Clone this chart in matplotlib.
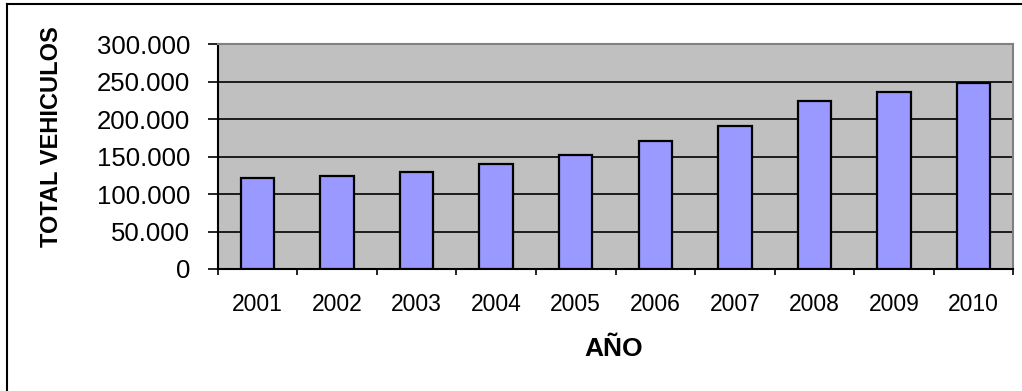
import matplotlib
matplotlib.use("Agg")
import matplotlib.pyplot as plt
from matplotlib.ticker import FuncFormatter, FixedLocator
from matplotlib.lines import Line2D

# datos
anios = ["2001", "2002", "2003", "2004", "2005", "2006", "2007", "2008", "2009", "2010"]
total_vehiculos = [121500, 123800, 130000, 140600, 152600, 170900, 190500, 224000, 236000, 248000]
y_ticks = [0, 50000, 100000, 150000, 200000, 250000, 300000]

plt.rcParams["font.family"] = ["Liberation Sans", "DejaVu Sans"]

fig = plt.figure(figsize=(10.22, 3.91), dpi=100)
ax = fig.add_axes([217.7 / 1022, 1 - 269 / 391, (1013.3 - 217.7) / 1022, (269 - 44.3) / 391])
ax.set_facecolor("#C0C0C0")

x = list(range(len(anios)))
ax.bar(x, total_vehiculos, width=0.42, color="#9999FF", edgecolor="black", linewidth=1.6, zorder=3)

ax.set_xlim(-0.5, len(anios) - 0.5)
ax.set_ylim(0, 300000)
ax.set_yticks(y_ticks)
ax.yaxis.set_major_formatter(FuncFormatter(lambda v, p: f"{v:,.0f}".replace(",", ".")))
ax.grid(axis="y", color="black", linewidth=1.2, zorder=1)
ax.set_axisbelow(True)

# etiquetas en el centro, marcas en los bordes de categoria
ax.set_xticks(x)
ax.set_xticklabels(anios, fontsize=16.5)
ax.tick_params(axis="x", which="major", length=0, pad=17)
ax.xaxis.set_minor_locator(FixedLocator([i - 0.5 for i in range(len(anios) + 1)]))
ax.tick_params(axis="x", which="minor", length=4.5, width=1.2, direction="out")
ax.tick_params(axis="y", length=7.2, width=1.2, direction="out", pad=12.5, labelsize=18.5)

for s in ["left", "bottom"]:
    ax.spines[s].set_color("black")
    ax.spines[s].set_linewidth(1.5)
for s in ["top", "right"]:
    ax.spines[s].set_color("#808080")
    ax.spines[s].set_linewidth(1.5)

fig.text(52 / 1022, 1 - 137 / 391, "TOTAL VEHICULOS", rotation=90, ha="center", va="center",
         fontsize=17, fontweight="bold")
fig.text(614 / 1022, 1 - 349 / 391, "AÑO", ha="center", va="center", fontsize=19, fontweight="bold")

# marco del area del grafico
fig.add_artist(Line2D([6.5 / 1022, 6.5 / 1022], [0, 1 - 4 / 391], transform=fig.transFigure,
                      color="black", linewidth=1.5))
fig.add_artist(Line2D([6.5 / 1022, 1], [1 - 4 / 391, 1 - 4 / 391], transform=fig.transFigure,
                      color="black", linewidth=1.5))

fig.savefig("out.png", dpi=100, facecolor="white")
